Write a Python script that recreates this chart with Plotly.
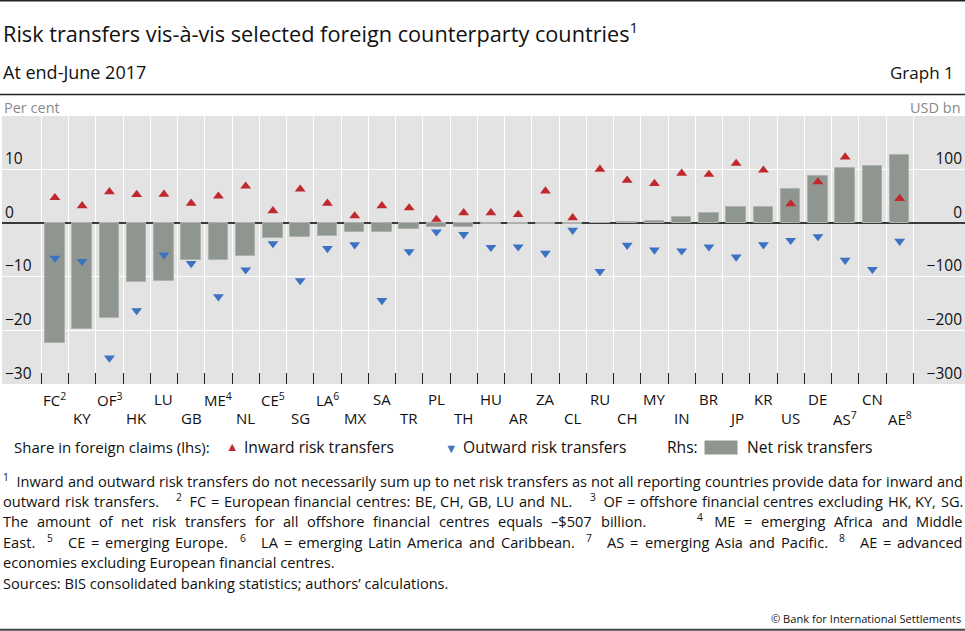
import re
import plotly.graph_objects as go

# ---------------- data ----------------
categories = ["FC<sup>2</sup>", "KY", "OF<sup>3</sup>", "HK", "LU", "GB", "ME<sup>4</sup>", "NL",
              "CE<sup>5</sup>", "SG", "LA<sup>6</sup>", "MX", "SA", "TR", "PL", "TH", "HU", "AR",
              "ZA", "CL", "RU", "CH", "MY", "IN", "BR", "JP", "KR", "US", "DE", "AS<sup>7</sup>",
              "CN", "AE<sup>8</sup>"]

inward = [4.75, 3.25, 5.85, 5.35, 5.4, 3.7, 5.05, 6.9, 2.3, 6.35, 3.7, 1.35, 3.25, 2.85, 0.7, 1.95,
          1.95, 1.6, 6.0, 1.0, 10.05, 8.0, 7.4, 9.3, 9.1, 11.15, 9.9, 3.6, 7.7, 12.35, None, 4.6]

outward = [-6.5, -7.1, -25.15, -16.3, -5.9, -7.5, -13.7, -8.7, -3.8, -10.7, -4.7, -4.0, -14.4, -5.3,
           -1.6, -2.1, -4.5, -4.4, -5.6, -1.3, -9.0, -4.1, -5.0, -5.15, -4.4, -6.3, -4.0, -3.2,
           -2.5, -6.9, -8.6, -3.35]

net = [-223, -197, -176, -110, -108, -68, -68, -61, -27, -25, -23, -17, -17, -10, -7, -7,
       -2, -2, -1, -1, 0.5, 3, 5, 11, 19, 30, 31, 63, 89, 103, 106, 128]

lhs_ticks = [-30, -20, -10, 0, 10]
rhs_ticks = [-300, -200, -100, 0, 100]

# footnote lines: '^n' = superscript, '~' = non-breaking space, space runs = stretchable gaps
footnotes = [
    "^1~~Inward and outward risk transfers do not necessarily sum up to net risk transfers as not all reporting countries provide data for inward and",
    "outward risk transfers.    ^2~~FC = European financial centres: BE, CH, GB, LU and NL.    ^3~~OF = offshore financial centres excluding HK, KY, SG.",
    "The amount of net risk transfers for all offshore financial centres equals –$507 billion.      ^4~~~ME = emerging Africa and Middle",
    "East.  ^5~~~~CE = emerging Europe.  ^6~~~~LA = emerging Latin America and Caribbean.  ^7~~~~AS = emerging Asia and Pacific.  ^8~~~~AE = advanced",
]
footnote_last = "economies excluding European financial centres."
sources = "Sources: BIS consolidated banking statistics; authors’ calculations."

# ---------------- styling / geometry ----------------
FONT = "Open Sans"
W, H = 965, 631
PL, PT, PW, PH = 2, 116, 963, 268
RED = "#C0282D"
BLUE = "#3B72C2"
BAR = "#8F968F"
n = len(categories)
xs = list(range(n))
slot = 27.25
x_lo = -0.5 - (41.3 - PL) / slot
x_hi = (n - 0.5) + (PL + PW - 913.3) / slot


def px(X):
    return (X - PL) / PW


def py(Y):
    return (PT + PH - Y) / PH


# approximate Open Sans advance widths (units of 1/2048 em)
ADV = {" ": 532, "~": 532, ",": 502, ".": 545, ":": 545, ";": 545, "=": 1171, "–": 1024, "$": 1171,
       "’": 350, "(": 606, ")": 606, "-": 659,
       "A": 1296, "B": 1327, "C": 1292, "D": 1493, "E": 1139, "F": 1057, "G": 1491, "H": 1511,
       "I": 571, "J": 547, "K": 1257, "L": 1063, "M": 1849, "N": 1544, "O": 1595, "P": 1233,
       "R": 1266, "S": 1124, "T": 1133, "U": 1491, "V": 1219, "W": 1896, "X": 1182, "Y": 1147,
       "a": 1139, "b": 1255, "c": 975, "d": 1255, "e": 1149, "f": 694, "g": 1122, "h": 1257,
       "i": 518, "j": 518, "k": 1075, "l": 518, "m": 1905, "n": 1257, "o": 1237, "p": 1255,
       "q": 1255, "r": 836, "s": 977, "t": 723, "u": 1257, "v": 1026, "w": 1593, "x": 1073,
       "y": 1028, "z": 977}


def tok_width(tok, fs):
    w = 0.0
    i = 0
    while i < len(tok):
        ch = tok[i]
        if ch == "^":
            i += 1
            while i < len(tok) and tok[i].isdigit():
                w += 0.7 * 1171
                i += 1
            continue
        w += 1171 if ch.isdigit() else ADV.get(ch, 1150)
        i += 1
    return w / 2048.0 * fs


def tok_html(tok):
    return re.sub(r"\^(\d+)", r"<sup>\1</sup>", tok).replace("~", "\u00a0")


fig = go.Figure()

fig.add_trace(go.Bar(x=xs, y=net, width=0.72, yaxis="y", xaxis="x", textposition="none",
                     marker=dict(color=BAR, line=dict(color="#AEB2AD", width=1)),
                     name="Net risk transfers"))
fig.add_trace(go.Scatter(x=xs, y=inward, mode="markers", yaxis="y2", xaxis="x",
                         marker=dict(symbol="triangle-up", size=9.5, color=RED),
                         name="Inward risk transfers"))
fig.add_trace(go.Scatter(x=xs, y=outward, mode="markers", yaxis="y2", xaxis="x",
                         marker=dict(symbol="triangle-down", size=9.5, color=BLUE),
                         name="Outward risk transfers"))

annotations = []
for i, lab in enumerate(categories):
    annotations.append(dict(x=i, xref="x", y=py(399 if i % 2 == 0 else 418), yref="paper",
                            text=lab, showarrow=False, xanchor="center", yanchor="middle",
                            font=dict(family=FONT, size=15, color="#111")))


def txt(text, X, Y, size, color="#111", anchor="left", yanchor="middle", tight=False):
    a = dict(x=px(X), xref="paper", y=py(Y), yref="paper", text=text,
             showarrow=False, xanchor=anchor, yanchor=yanchor,
             font=dict(family=FONT, size=size, color=color))
    if tight:
        a.update(borderpad=0, borderwidth=0)
    annotations.append(a)


# titles
txt("Risk transfers vis-à-vis selected foreign counterparty countries<sup>1</sup>", 1, 32, 21.7)
txt("At end-June 2017", 1, 72, 18)
txt("Graph 1", 956, 72, 17, anchor="right")
txt("Per cent", 2, 107, 14.5, color="#8a8a8a")
txt("USD bn", 963, 107, 14.5, color="#8a8a8a", anchor="right")

# legend
LY = 447
LS = 15.6
txt("Share in foreign claims (lhs):", 12, LY, 15)
txt("▲", 232, LY - 1, 12.5, color=RED, anchor="center")
txt("Inward risk transfers", 242, LY, LS)
txt("▼", 451, LY + 1, 12.5, color=BLUE, anchor="center")
txt("Outward risk transfers", 461, LY, LS)
txt("Rhs:", 665, LY, LS)
annotations.append(dict(x=px(721), xref="paper", y=py(LY), yref="paper", text=" ",
                        showarrow=False, xanchor="center", yanchor="middle",
                        width=32, height=13, bgcolor=BAR, borderpad=0,
                        font=dict(family=FONT, size=8)))
txt("Net risk transfers", 745, LY, LS)

# justified footnotes
FS = 14.6
XL, XR = 3, 963
centres = [482, 502.3, 522.8, 543.2, 563.6]
BOT = 8.6  # centre -> bottom of text box
space_w = 532 / 2048.0 * FS
for line, cy in zip(footnotes, centres):
    parts = re.findall(r"(\S+)( *)", line)
    widths = [tok_width(t, FS) for t, _ in parts]
    gaps = [len(s) for _, s in parts[:-1]]
    natural = sum(widths) + sum(gaps) * space_w
    extra = (XR - XL - natural) / max(sum(gaps), 1)
    x = XL
    for k, (t, _) in enumerate(parts):
        last = k == len(parts) - 1
        txt(tok_html(t), XR if last else x, cy + BOT, FS, anchor="right" if last else "left",
            yanchor="bottom", tight=True)
        if not last:
            x += widths[k] + gaps[k] * (space_w + extra)
txt(footnote_last, XL, centres[-1] + BOT, FS, yanchor="bottom", tight=True)
txt(sources, XL, 584 + BOT, FS, yanchor="bottom", tight=True)
txt("© Bank for International Settlements", 963, 618, 11.1, anchor="right")

shapes = [
    dict(type="line", xref="paper", yref="paper", x0=px(0), x1=px(W), y0=py(0.8), y1=py(0.8),
         line=dict(color="#222", width=1.6)),
    dict(type="line", xref="paper", yref="paper", x0=px(0), x1=px(W), y0=py(94.5), y1=py(94.5),
         line=dict(color="#222", width=1.4)),
    dict(type="line", xref="paper", yref="paper", x0=px(0), x1=px(W), y0=py(629.8), y1=py(629.8),
         line=dict(color="#444", width=2)),
]

fig.update_layout(
    width=W, height=H,
    margin=dict(l=PL, r=W - PL - PW, t=PT, b=H - PT - PH, pad=0),
    paper_bgcolor="white", plot_bgcolor="#E3E3E3",
    showlegend=False, bargap=0,
    font=dict(family=FONT, size=15, color="#111"),
    xaxis=dict(range=[x_lo, x_hi], tickmode="array",
               tickvals=[k - 0.5 for k in range(n + 1)], showticklabels=False,
               showgrid=True, gridcolor="white", gridwidth=1.3,
               ticks="inside", ticklen=11, tickwidth=1.3, tickcolor="#222",
               zeroline=False, showline=False, fixedrange=True),
    yaxis=dict(range=[-300, 200], side="right", tickmode="array", tickvals=rhs_ticks,
               ticklabelposition="inside top", showgrid=True, gridcolor="white", gridwidth=1.3,
               zeroline=True, zerolinecolor="#3a3a3a", zerolinewidth=1.7,
               ticks="", showline=False, tickfont=dict(family=FONT, size=15.5, color="#111")),
    yaxis2=dict(range=[-30, 20], side="left", overlaying="y", tickmode="array",
                tickvals=lhs_ticks, ticklabelposition="inside top", showgrid=False,
                zeroline=False, ticks="", showline=False,
                tickfont=dict(family=FONT, size=15.5, color="#111")),
    annotations=annotations,
    shapes=shapes,
)

fig.write_html("out.html", config={"displayModeBar": False},
               post_script="document.body.style.margin='0';document.body.style.overflow='hidden';")
